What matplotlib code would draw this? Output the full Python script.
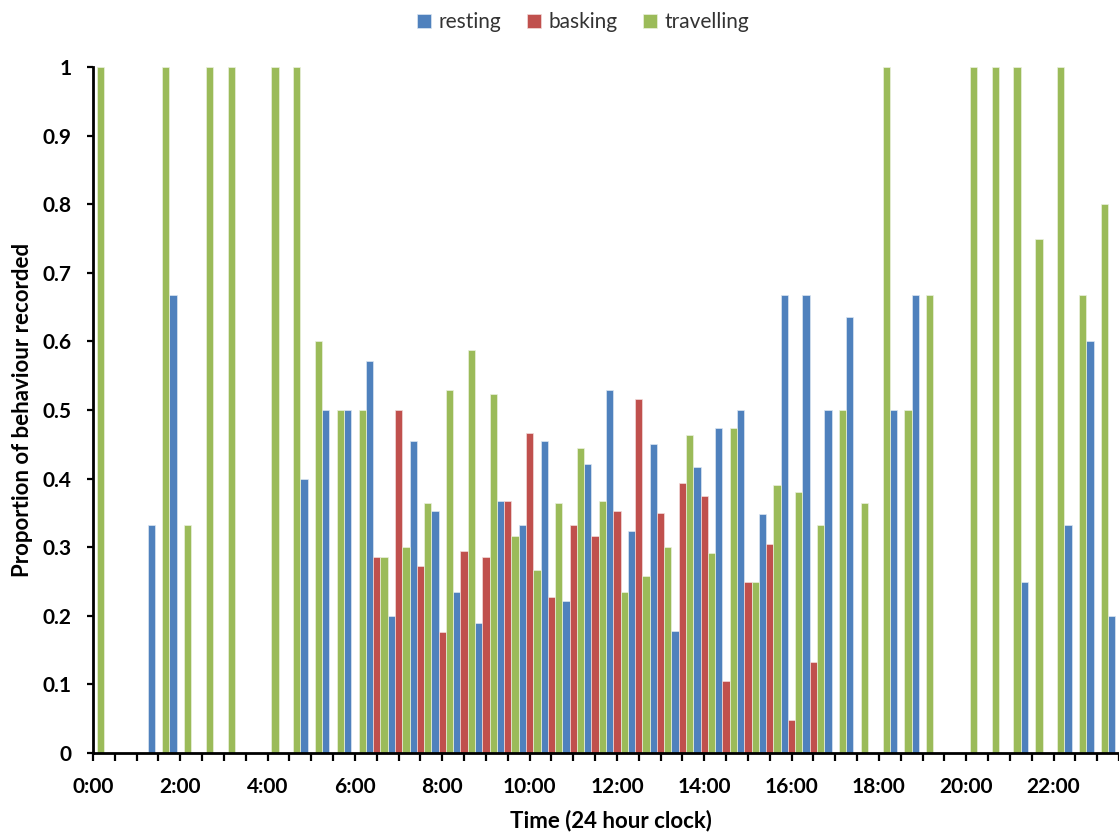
import numpy as np
import matplotlib
matplotlib.use('Agg')
import matplotlib.pyplot as plt

plt.rcParams['font.family'] = ['Lato', 'DejaVu Sans']

# half-hour slots from 0:00 to 23:30
n_slots = 48
tick_labels = ['0:00', '2:00', '4:00', '6:00', '8:00', '10:00',
               '12:00', '14:00', '16:00', '18:00', '20:00', '22:00']

resting = [0, 0, 0, 0.333, 0.667, 0, 0, 0, 0, 0,
           0.4, 0.5, 0.5, 0.571, 0.2, 0.455, 0.353, 0.235, 0.19, 0.368,
           0.333, 0.455, 0.222, 0.421, 0.529, 0.323, 0.45, 0.178, 0.417, 0.474,
           0.5, 0.348, 0.667, 0.667, 0.5, 0.636, 0, 0.5, 0.667, 0,
           0, 0, 0, 0.25, 0, 0.333, 0.6, 0.2]
basking = [0, 0, 0, 0, 0, 0, 0, 0, 0, 0,
           0, 0, 0, 0.286, 0.5, 0.273, 0.176, 0.294, 0.286, 0.368,
           0.467, 0.227, 0.333, 0.316, 0.353, 0.516, 0.35, 0.393, 0.375, 0.105,
           0.25, 0.304, 0.048, 0.133, 0, 0, 0, 0, 0, 0,
           0, 0, 0, 0, 0, 0, 0, 0]
travelling = [1.0, 0, 0, 1.0, 0.333, 1.0, 1.0, 0, 1.0, 1.0,
              0.6, 0.5, 0.5, 0.286, 0.3, 0.364, 0.529, 0.588, 0.524, 0.316,
              0.267, 0.364, 0.444, 0.368, 0.235, 0.258, 0.3, 0.464, 0.292, 0.474,
              0.25, 0.391, 0.381, 0.333, 0.5, 0.364, 1.0, 0.5, 0.667, 0,
              1.0, 1.0, 1.0, 0.75, 1.0, 0.667, 0.8, 0]

fig = plt.figure(figsize=(11.19, 8.33), dpi=100)
ax = fig.add_axes([93 / 1119, 80 / 833, 1 - 93 / 1119, (753 - 67) / 833])

x = np.arange(n_slots)
w = 1 / 3
ax.bar(x - w, resting, w, color='#4F81BD', edgecolor='#dce6f2', linewidth=0.5, label='resting')
ax.bar(x, basking, w, color='#C0504D', edgecolor='#f2dcdb', linewidth=0.5, label='basking')
ax.bar(x + w, travelling, w, color='#9BBB59', edgecolor='#ebf1de', linewidth=0.5, label='travelling')

ax.set_xlim(0, (1119 - 93) / 21.98)
ax.set_ylim(0, 1)

ax.set_xticks(x)
ax.set_xticklabels([tick_labels[i // 4] if i % 4 == 0 else '' for i in x])
ax.set_yticks(np.arange(0, 1.01, 0.1))
ax.set_yticklabels(['0', '0.1', '0.2', '0.3', '0.4', '0.5', '0.6', '0.7', '0.8', '0.9', '1'])

for lab in ax.get_xticklabels() + ax.get_yticklabels():
    lab.set_fontweight('bold')
    lab.set_fontsize(15)

ax.tick_params(axis='x', direction='out', length=6, width=1.6, pad=11)
ax.tick_params(axis='y', direction='out', length=4.5, width=1.6, pad=11)

for s in ['top', 'right']:
    ax.spines[s].set_visible(False)
for s in ['left', 'bottom']:
    ax.spines[s].set_linewidth(2)
    ax.spines[s].set_zorder(5)

ax.set_xlabel('Time (24 hour clock)', fontsize=16, fontweight='bold')
ax.xaxis.set_label_coords((611 - 93) / 1026, -0.082)
ax.set_ylabel('Proportion of behaviour recorded', fontsize=16, fontweight='bold')
ax.yaxis.set_label_coords(-0.058, 0.5)

fig.legend(loc='upper center', bbox_to_anchor=(583 / 1119, 1.008), ncol=3, frameon=False,
           fontsize=15, handlelength=0.7, handleheight=0.7, handletextpad=0.35,
           columnspacing=1.2, labelcolor='#333333')

fig.savefig('out.png', dpi=100)
